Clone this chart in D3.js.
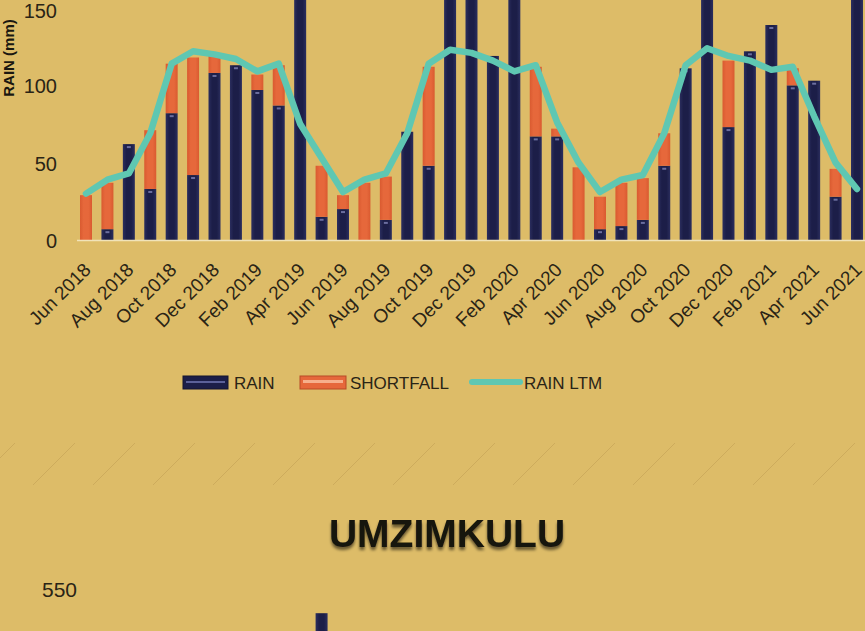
<!DOCTYPE html>
<html>
<head>
<meta charset="utf-8">
<script src="https://cdn.jsdelivr.net/npm/d3@7"></script>
<style>
  body { margin: 0; background: #ddbc68; overflow: hidden; }
  svg { display: block; font-family: "Liberation Sans", Arial, sans-serif; }
</style>
</head>
<body>
<div id="chart"></div>
<script>
// months shown on the x axis (every month is a bar, every 2nd gets a label)
const months = ["Jun 2018","Jul 2018","Aug 2018","Sep 2018","Oct 2018","Nov 2018","Dec 2018",
  "Jan 2019","Feb 2019","Mar 2019","Apr 2019","May 2019","Jun 2019","Jul 2019","Aug 2019","Sep 2019",
  "Oct 2019","Nov 2019","Dec 2019","Jan 2020","Feb 2020","Mar 2020","Apr 2020","May 2020","Jun 2020",
  "Jul 2020","Aug 2020","Sep 2020","Oct 2020","Nov 2020","Dec 2020","Jan 2021","Feb 2021","Mar 2021",
  "Apr 2021","May 2021","Jun 2021"]
const rain =      [0,7,62,33,82,42,108,113,97,87,190,15,20,0,13,70,48,175,200,119,165,67,67,0,7,9,13,48,111,185,73,122,139,100,103,28,170]
const shortfall = [29,30,0,38,32,76,12,0,10,26,0,33,9,37,28,0,64,0,0,0,0,45,5,47,21,28,27,21,0,0,43,0,0,11,0,18,0]
const rainLtm =   [30,39,43,69,114,122,120,117,109,114,75,53,31,39,43,69,114,123,121,116,109,113,76,50,31,39,42,69,113,124,119,116,110,112,80,50,33]
const yTicks = [0,50,100,150]
const legendItems = ["RAIN","SHORTFALL","RAIN LTM"]

// second chart (only its top edge is in view)
const umzTitle = "UMZIMKULU"
const umzMonths = ["May 2019"]
const umzRain = [495]
const umzTicks = [550]

const W = 865, H = 631
const colNavy = "#1c1e48", colOrange = "#e6683b", colTeal = "#5fc7b2", colText = "#2a2416"

const svg = d3.select("#chart").append("svg").attr("width", W).attr("height", H)
const defs = svg.append("defs")

function translate(x,y){return `translate(${x}, ${y})`}

// bar gradients for the slightly bevelled look
function barGrad(id, edge, mid){
  const g = defs.append("linearGradient").attr("id", id).attr("x1","0").attr("x2","1").attr("y1","0").attr("y2","0")
  g.append("stop").attr("offset","0%").attr("stop-color", edge)
  g.append("stop").attr("offset","30%").attr("stop-color", mid)
  g.append("stop").attr("offset","70%").attr("stop-color", mid)
  g.append("stop").attr("offset","100%").attr("stop-color", edge)
}
barGrad("gNavy", "#2b2e5e", colNavy)
barGrad("gOrange", "#d95a30", colOrange)

const shadow = defs.append("filter").attr("id","titleShadow").attr("x","-10%").attr("y","-30%").attr("width","120%").attr("height","170%")
shadow.append("feDropShadow").attr("dx",0).attr("dy",3).attr("stdDeviation",1.6).attr("flood-color","#000").attr("flood-opacity",0.55)

// scales
const x = d3.scaleBand().domain(months).range([75.3, 867.7]).paddingInner(0.44).paddingOuter(0.22)
const y = d3.scaleLinear().domain([0,150]).range([240, 8])

// y axis title, at the left edge
svg.append("text")
  .attr("transform", translate(14, 58) + " rotate(-90)")
  .attr("text-anchor","middle")
  .attr("font-weight","bold").attr("font-size",15).attr("fill","#1a1710")
  .text("RAIN (mm)")

// y ticks (top one nudged down so it stays inside the frame)
svg.append("g").selectAll("text").data(yTicks).join("text")
  .attr("x", 57).attr("y", d => Math.max(y(d), 10)).attr("dy","0.4em")
  .attr("text-anchor","end").attr("font-size",20).attr("fill",colText)
  .text(d => d)

// bars
const bars = svg.append("g")
bars.selectAll("rect.rain").data(months).join("rect").attr("class","rain")
  .attr("x", d => x(d)).attr("width", x.bandwidth())
  .attr("y", (d,i) => y(rain[i])).attr("height", (d,i) => y(0) - y(rain[i]))
  .attr("fill","url(#gNavy)")
bars.selectAll("rect.short").data(months).join("rect").attr("class","short")
  .attr("x", d => x(d)).attr("width", x.bandwidth())
  .attr("y", (d,i) => y(rain[i] + shortfall[i])).attr("height", (d,i) => y(0) - y(shortfall[i]))
  .attr("fill","url(#gOrange)")
// tiny light marks at segment tops
bars.selectAll("rect.mark").data(months.filter((d,i) => rain[i] > 3)).join("rect").attr("class","mark")
  .attr("x", d => x(d) + x.bandwidth()/2 - 2).attr("width", 4)
  .attr("y", d => y(rain[months.indexOf(d)]) + 2).attr("height", 2)
  .attr("fill","#8d90c4").attr("opacity",0.7)

// baseline
svg.append("line").attr("x1",77).attr("x2",W).attr("y1",y(0)+0.5).attr("y2",y(0)+0.5)
  .attr("stroke","#f1e3b8").attr("stroke-width",1.5)

// LTM line
const line = d3.line().x((d,i) => x(months[i]) + x.bandwidth()/2).y(d => y(d))
svg.append("path").datum(rainLtm).attr("d", line)
  .attr("fill","none").attr("stroke",colTeal).attr("stroke-width",6.5)
  .attr("stroke-linejoin","round").attr("stroke-linecap","round")

// x labels
svg.append("g").selectAll("text").data(months.filter((d,i) => i % 2 == 0)).join("text")
  .attr("transform", d => translate(x(d) + x.bandwidth()/2 + 6, 271) + " rotate(-45)")
  .attr("text-anchor","end").attr("font-size",19).attr("fill",colText)
  .text(d => d)

// legend
const lg = svg.append("g").attr("font-size",17).attr("fill",colText)
const lgX = [183, 300, 472]
const lgTextX = [234, 350, 524]
lg.append("rect").attr("x",lgX[0]).attr("y",376).attr("width",45).attr("height",13).attr("fill",colNavy).attr("stroke","#14152f")
lg.append("rect").attr("x",lgX[0]+3).attr("y",381).attr("width",39).attr("height",2).attr("fill","#5c6199")
lg.append("rect").attr("x",lgX[1]).attr("y",376).attr("width",46).attr("height",13).attr("fill",colOrange).attr("stroke","#b84a26")
lg.append("rect").attr("x",lgX[1]+3).attr("y",380).attr("width",40).attr("height",3).attr("fill","#f6b08c")
lg.append("line").attr("x1",lgX[2]).attr("x2",lgX[2]+48).attr("y1",382).attr("y2",382)
  .attr("stroke",colTeal).attr("stroke-width",6).attr("stroke-linecap","round")
lg.selectAll("text").data(legendItems).join("text")
  .attr("x", (d,i) => lgTextX[i]).attr("y", 389).text(d => d)

// faint diagonal hatch band between the two charts
const hatch = defs.append("pattern").attr("id","hatch").attr("patternUnits","userSpaceOnUse")
  .attr("width",60).attr("height",42).attr("x",33).attr("y",443)
hatch.append("line").attr("x1",0).attr("y1",42).attr("x2",42).attr("y2",0)
  .attr("stroke","#cdab5c").attr("stroke-width",1)
svg.append("rect").attr("x",0).attr("y",443).attr("width",W).attr("height",42).attr("fill","url(#hatch)")

// second chart title
svg.append("text").attr("x",447).attr("y",547).attr("text-anchor","middle")
  .attr("font-size",39).attr("font-weight","bold").attr("fill","#15130c")
  .attr("filter","url(#titleShadow)")
  .text(umzTitle)

// second chart top
const x2 = x.copy().domain(months)
const y2 = d3.scaleLinear().domain([0,550]).range([822, 590])
svg.append("g").selectAll("text").data(umzTicks).join("text")
  .attr("x", 77).attr("y", d => y2(d)).attr("dy","0.35em")
  .attr("text-anchor","end").attr("font-size",21).attr("fill",colText)
  .text(d => d)
svg.append("g").selectAll("rect").data(umzMonths).join("rect")
  .attr("x", d => x2(d)).attr("width", x2.bandwidth())
  .attr("y", (d,i) => y2(umzRain[i])).attr("height", (d,i) => y2(0) - y2(umzRain[i]))
  .attr("fill","url(#gNavy)")
</script>
</body>
</html>
